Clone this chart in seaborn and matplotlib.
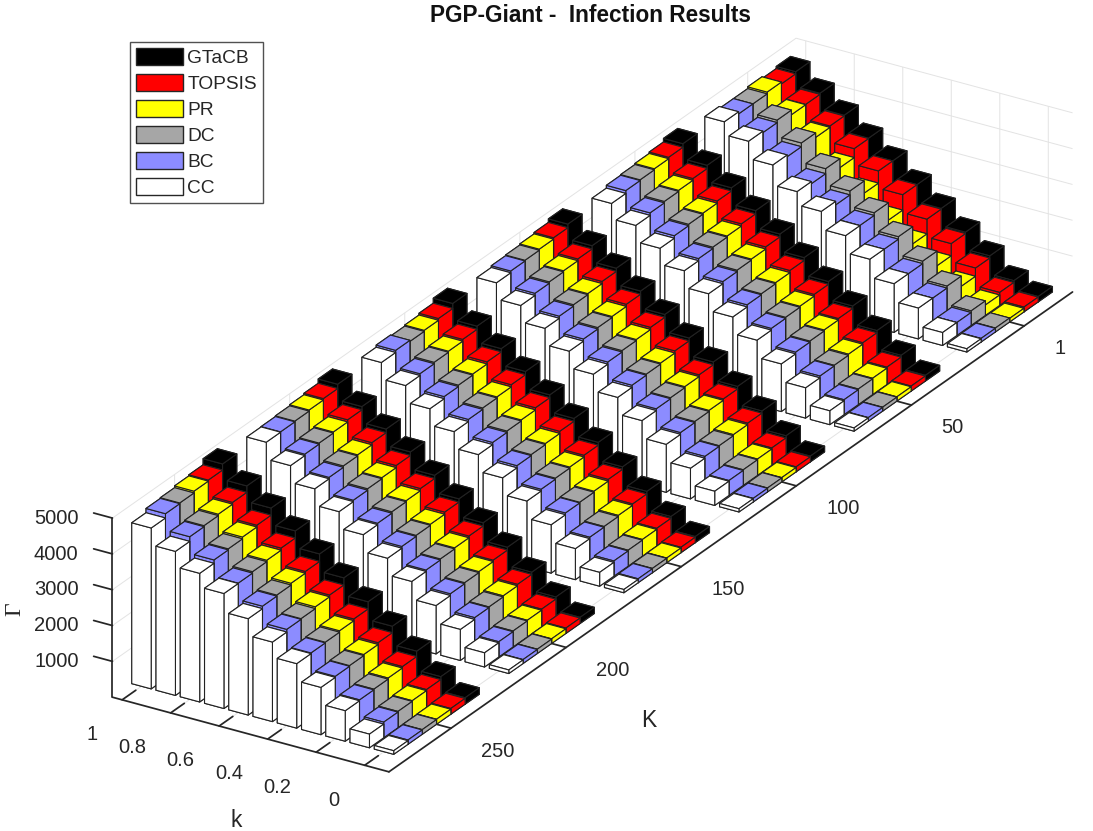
import numpy as np
import matplotlib
matplotlib.use('Agg')
import matplotlib.pyplot as plt
import seaborn as sns
from matplotlib.patches import Patch
from mpl_toolkits.mplot3d import proj3d

sns.set_theme(style='white')
plt.rcParams['font.family'] = ['Liberation Sans', 'DejaVu Sans']

# data
k_vals = [0.0, 0.1, 0.2, 0.3, 0.4, 0.5, 0.6, 0.7, 0.8, 0.9, 1.0]
K_groups = [1, 50, 100, 150, 200, 250]
series = ['GTaCB', 'TOPSIS', 'PR', 'DC', 'BC', 'CC']
colors = ['#000000', '#ff0000', '#ffff00', '#a6a6a6', '#8c8cff', '#ffffff']
k_ticks = [0, 0.2, 0.4, 0.6, 0.8, 1]
k_ticklabels = ['0', '0.2', '0.4', '0.6', '0.8', '1']
z_ticks = [1000, 2000, 3000, 4000, 5000]

# one row per K group, one value per k
gtacb = [
    [150, 410, 920, 1400, 1880, 2360, 2840, 3290, 3750, 4180, 4600],
    [160, 535, 1045, 1550, 2050, 2535, 3010, 3480, 3935, 4380, 4800],
    [160, 545, 1055, 1560, 2060, 2545, 3020, 3490, 3945, 4390, 4810],
    [170, 545, 1065, 1570, 2070, 2555, 3030, 3500, 3955, 4400, 4850],
    [170, 555, 1065, 1580, 2080, 2565, 3040, 3510, 3965, 4410, 4850],
    [180, 585, 1115, 1630, 2130, 2615, 3100, 3560, 4015, 4450, 4880],
]
topsis = [
    [135, 360, 860, 1360, 1860, 2360, 2840, 3280, 3730, 4150, 4540],
    [140, 485, 985, 1480, 1970, 2455, 2930, 3390, 3845, 4290, 4700],
    [140, 485, 995, 1490, 1980, 2465, 2940, 3400, 3855, 4300, 4710],
    [150, 495, 995, 1500, 1990, 2475, 2950, 3410, 3865, 4310, 4710],
    [150, 495, 1005, 1500, 1990, 2475, 2950, 3410, 3865, 4320, 4730],
    [160, 505, 965, 1450, 1930, 2415, 2890, 3360, 3815, 4270, 4710],
]
pr = [
    [100, 290, 630, 1020, 1450, 1930, 2500, 3030, 3690, 4140, 4590],
    [120, 455, 945, 1440, 1920, 2395, 2870, 3330, 3785, 4240, 4660],
    [120, 455, 955, 1450, 1930, 2405, 2880, 3340, 3795, 4250, 4670],
    [130, 465, 955, 1450, 1940, 2415, 2890, 3350, 3805, 4260, 4660],
    [130, 465, 965, 1460, 1940, 2415, 2890, 3350, 3805, 4260, 4690],
    [140, 475, 925, 1400, 1880, 2365, 2840, 3300, 3765, 4220, 4680],
]
dc = [
    [110, 405, 915, 1430, 1930, 2415, 2840, 3280, 3815, 4270, 4540],
    [110, 435, 915, 1410, 1890, 2365, 2840, 3300, 3755, 4210, 4630],
    [110, 435, 925, 1420, 1900, 2375, 2850, 3310, 3765, 4220, 4640],
    [120, 445, 925, 1420, 1910, 2385, 2860, 3320, 3775, 4230, 4630],
    [120, 445, 935, 1430, 1910, 2385, 2860, 3320, 3775, 4230, 4660],
    [130, 455, 895, 1370, 1840, 2315, 2790, 3260, 3715, 4180, 4630],
]
bc = [
    [100, 360, 860, 1360, 1860, 2340, 2730, 3140, 3710, 4200, 4540],
    [100, 415, 895, 1380, 1860, 2335, 2800, 3260, 3715, 4170, 4610],
    [100, 415, 905, 1390, 1870, 2345, 2810, 3270, 3725, 4180, 4620],
    [110, 425, 905, 1400, 1880, 2355, 2820, 3280, 3735, 4190, 4660],
    [110, 425, 915, 1400, 1880, 2355, 2820, 3280, 3735, 4200, 4640],
    [120, 435, 875, 1350, 1820, 2295, 2760, 3220, 3685, 4150, 4610],
]
cc = [
    [90, 360, 860, 1360, 1860, 2335, 2830, 3200, 3760, 4240, 4600],
    [90, 385, 845, 1330, 1810, 2275, 2740, 3200, 3645, 4100, 4530],
    [90, 395, 855, 1340, 1820, 2285, 2750, 3210, 3665, 4120, 4570],
    [90, 385, 865, 1350, 1830, 2295, 2760, 3220, 3675, 4140, 4600],
    [100, 395, 865, 1350, 1840, 2305, 2780, 3240, 3695, 4160, 4630],
    [100, 380, 850, 1320, 1800, 2220, 2690, 3210, 3590, 4020, 4490],
]
values = [gtacb, topsis, pr, dc, bc, cc]

fig = plt.figure(figsize=(10.93, 8.31), dpi=100)
ax = fig.add_axes([0.0318, -0.0009, 1, 1], projection='3d', proj_type='ortho')
ax.computed_zorder = False

xlim = (-0.1, 1.04)
ylim = (-20, 277)
zlim = (0, 5000)
box = (327, 1304, 200)
elev, azim = 25.8, 121.8

dk = 0.08   # bar depth along k
w = 6.2     # bar width along K

ev = np.array([np.cos(np.radians(elev)) * np.cos(np.radians(azim)),
               np.cos(np.radians(elev)) * np.sin(np.radians(azim)),
               np.sin(np.radians(elev))])

bars = []
for s in range(len(series)):
    off = (s - 2.5) * w
    for g, K in enumerate(K_groups):
        for i, k in enumerate(k_vals):
            h = values[s][g][i]
            cx = (k - xlim[0]) / (xlim[1] - xlim[0]) * box[0]
            cy = (K + off - ylim[0]) / (ylim[1] - ylim[0]) * box[1]
            depth = cx * ev[0] + cy * ev[1]
            bars.append((depth, k - dk / 2, K + off - w / 2, h, colors[s]))

# back to front so nearer bars cover farther ones
bars.sort(key=lambda b: b[0])
for z, (d, x0, y0, h, c) in enumerate(bars):
    col = ax.bar3d(x0, y0, 0, dk, w, h, color=c, shade=False,
                   edgecolor='#222222', linewidth=0.8)
    col.set_zorder(10 + z)
    col.set_clip_on(False)

ax.set_xlim(*xlim)
ax.set_ylim(*ylim)
ax.set_zlim(*zlim)
ax.set_box_aspect(box, zoom=1.5796)
ax.view_init(elev=elev, azim=azim)

# z axis on the front-left corner, ticks pointing along k like the reference
ax.zaxis.set_ticks_position('upper')
ax.zaxis._get_tickdir = lambda *a, **kw: 0

ax.set_xticks(k_ticks)
ax.set_yticks(K_groups)
ax.set_zticks(z_ticks)

tick_len = {'x': 0.25, 'y': 0.95, 'z': 0.85}
for name, axis in (('x', ax.xaxis), ('y', ax.yaxis), ('z', ax.zaxis)):
    axis.set_tick_params(labelbottom=False)
    axis.set_pane_color((1, 1, 1, 1))
    axis._axinfo['grid']['color'] = '#e3e3e3'
    axis._axinfo['grid']['linewidth'] = 0.7
    axis._axinfo['tick']['inward_factor'] = 0.0
    axis._axinfo['tick']['outward_factor'] = tick_len[name]
    axis._axinfo['tick']['color'] = '#262626'
    axis.line.set_color('#262626')

# tick labels: project the 3d anchor points, then write plain figure text
fig.canvas.draw()
M = ax.get_proj()


def fig_xy(x, y, z):
    px, py, _ = proj3d.proj_transform(x, y, z, M)
    d = ax.transData.transform((px, py))
    return fig.transFigure.inverted().transform(d)


tick_kw = dict(fontsize=14.5, color='#262626')
for k, lab in zip(k_ticks, k_ticklabels):
    fx, fy = fig_xy(k - 0.074, ylim[1] + 18.6, 0)
    fig.text(fx, fy, lab, ha='right', va='center', **tick_kw)
for K in K_groups:
    fx, fy = fig_xy(xlim[0] - 0.1865, K + 6.6, 0)
    fig.text(fx, fy, str(K), ha='left', va='center', **tick_kw)
for zt in z_ticks:
    fx, fy = fig_xy(xlim[1] + 0.1002, ylim[1] + 4.15, zt)
    fig.text(fx, fy, str(zt), ha='right', va='center', **tick_kw)

# axis labels placed like the reference
fig.text(236 / 1093, 1 - 827 / 831, 'k', fontsize=16.5, color='#262626', ha='center', va='baseline')
fig.text(649 / 1093, 1 - 727 / 831, 'K', fontsize=16.5, color='#262626', ha='center', va='baseline')
fig.text(15 / 1093, 1 - 609 / 831, 'Γ', fontsize=17, color='#262626', ha='center', va='center',
         rotation=90, family='Liberation Serif')

fig.text(590 / 1093, 1 - 22 / 831, 'PGP-Giant -  Infection Results', ha='center', va='baseline',
         fontsize=16.3, fontweight='bold', color='#111111')

handles = [Patch(facecolor=c, edgecolor='#262626', label=n) for n, c in zip(series, colors)]
fig.legend(handles=handles, loc='upper left', bbox_to_anchor=(130 / 1093, 1 - 42 / 831),
           fontsize=13.8, frameon=True, fancybox=False, edgecolor='#262626',
           handlelength=2.45, handleheight=1.0, borderpad=0.3, labelspacing=0.36,
           handletextpad=0.25, borderaxespad=0)

fig.savefig('out.png', dpi=100)
